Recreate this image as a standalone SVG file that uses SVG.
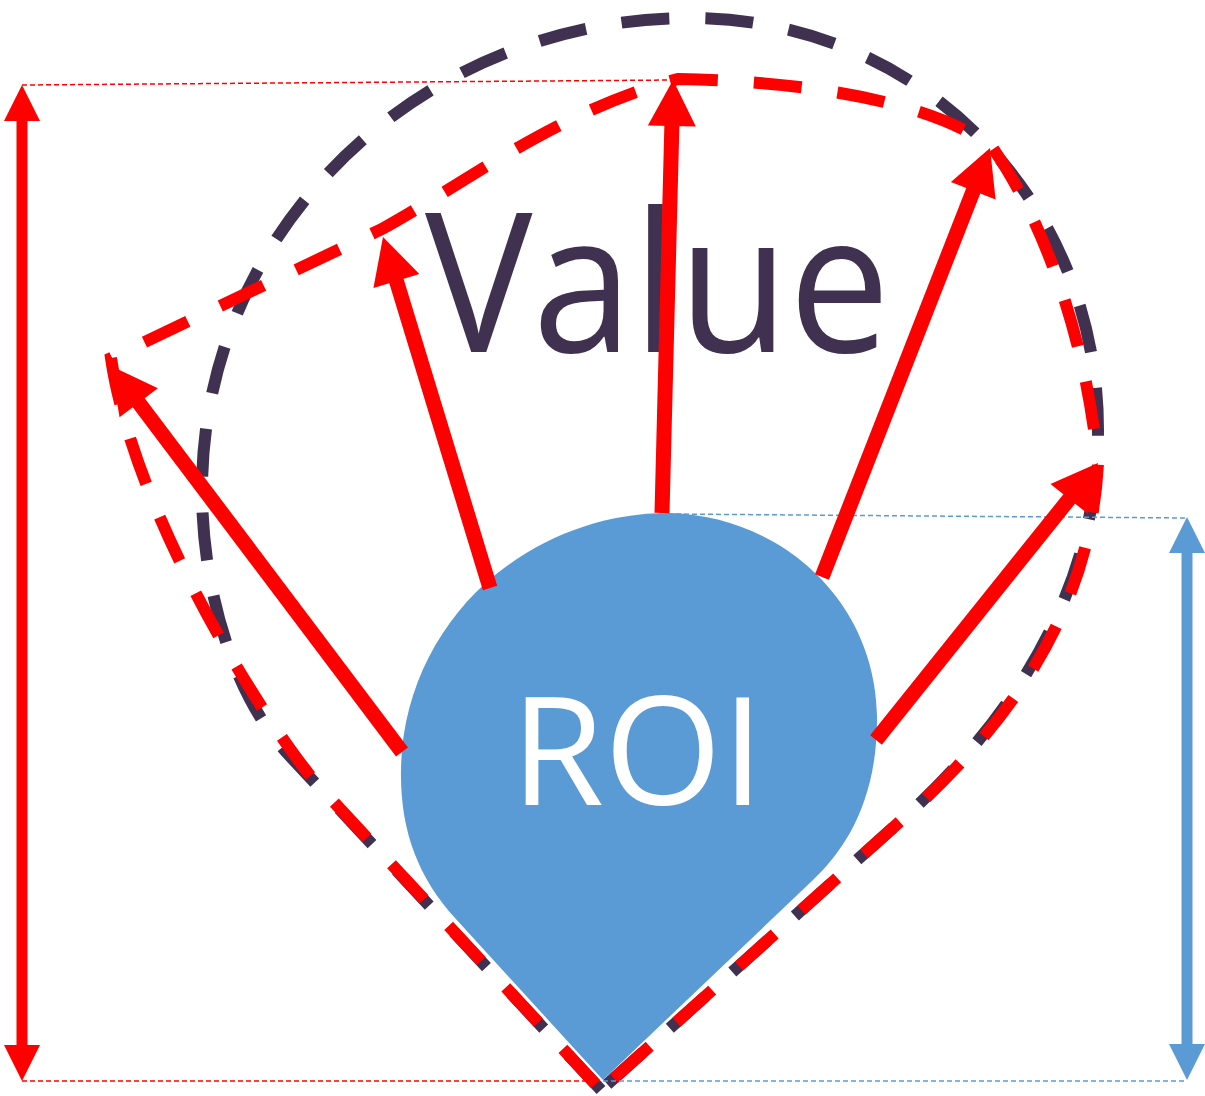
<svg xmlns="http://www.w3.org/2000/svg" width="1205" height="1096" viewBox="0 0 1205 1096">
  <style>
    .bg { fill: #FFFFFF; }
    .guide-red { stroke: #FF0000; stroke-width: 1.5; stroke-dasharray: 5 3; fill: none; }
    .guide-blue { stroke: #5B9BD5; stroke-width: 1.5; stroke-dasharray: 5 3; fill: none; }
    .dash-purple { stroke: #403151; stroke-width: 12; stroke-dasharray: 48 36; fill: none; stroke-linejoin: miter; }
    .dash-red { stroke: #FF0000; stroke-width: 12; stroke-dasharray: 48 36; fill: none; stroke-linejoin: miter; }
    .ray { stroke: #FF0000; stroke-width: 15; fill: none; marker-end: url(#ah-red); }
    .dim-red { stroke: #FF0000; stroke-width: 11; fill: none; marker-start: url(#dh-red); marker-end: url(#dh-red); }
    .dim-blue { stroke: #5B9BD5; stroke-width: 11; fill: none; marker-start: url(#dh-blue); marker-end: url(#dh-blue); }
    .roi-shape { fill: #5B9BD5; }
    .roi-text { fill: #FFFFFF; font-family: "Open Sans", "Noto Sans", "Liberation Sans", sans-serif; font-size: 151px; }
    .value-text { fill: #403151; font-family: "Open Sans", "Noto Sans", "Liberation Sans", sans-serif; font-size: 195px; }
  </style>
  <defs>
    <marker id="ah-red" markerUnits="userSpaceOnUse" markerWidth="46" markerHeight="48" refX="10" refY="24" orient="auto" overflow="visible">
      <path d="M0,0 L46,24 L0,48 Z" fill="#FF0000"/>
    </marker>
    <marker id="dh-red" markerUnits="userSpaceOnUse" markerWidth="36" markerHeight="36" refX="8" refY="18" orient="auto-start-reverse" overflow="visible">
      <path d="M0,0 L36,18 L0,36 Z" fill="#FF0000"/>
    </marker>
    <marker id="dh-blue" markerUnits="userSpaceOnUse" markerWidth="36" markerHeight="36" refX="8" refY="18" orient="auto-start-reverse" overflow="visible">
      <path d="M0,0 L36,18 L0,36 Z" fill="#5B9BD5"/>
    </marker>
  </defs>

  <rect class="bg" x="0" y="0" width="1205" height="1096"/>

  <g id="value">
    <text class="value-text" x="425" y="352" textLength="465" lengthAdjust="spacingAndGlyphs">Value</text>
  </g>

  <g id="value-boundary-outer">
    <path class="dash-purple" d="M601,1090 L288,754 C233.6,695.4 202,590 202,490 C202,225 425,18 690,18 C920,18 1098,200 1098,430 C1098,600 1001,730 905,817 Z"/>
  </g>

  <g id="value-boundary">
    <path class="dash-red" stroke-dashoffset="-8" d="M601,1090 L318,785 C270,730 135,520 111,358 L382,229 C470,180 560,110 678,79 C800,81 930,100 992,147 C1040,215 1085,330 1098,463 C1090,620 1000,732 905,817 Z"/>
  </g>

  <g id="guides">
    <line class="guide-red" x1="22" y1="85" x2="673" y2="80"/>
    <line class="guide-red" x1="22" y1="1081" x2="600" y2="1081"/>
    <line class="guide-blue" x1="668" y1="514" x2="1187" y2="518"/>
    <line class="guide-blue" x1="603" y1="1081" x2="1187" y2="1081"/>
  </g>

  <g id="roi">
    <path class="roi-shape" d="M603,1080 L455,918 C418,877 400,830 401,770 C402,690 440,620 495,575 C545,535 605,513 668,513 C780,515 875,600 877,715 C878,795 849,846 813,880 Z"/>
    <text class="roi-text" x="511" y="805">ROI</text>
  </g>

  <g id="connectors">
    <line class="ray" x1="402" y1="752" x2="132.7" y2="394.7"/>
    <line class="ray" x1="490" y1="588" x2="393.5" y2="271.4"/>
    <line class="ray" x1="662" y1="513" x2="672.1" y2="116"/>
    <line class="ray" x1="822" y1="577" x2="976.9" y2="181.5"/>
    <line class="ray" x1="876" y1="740" x2="1075.5" y2="491.1"/>
    <line class="dim-red" x1="22" y1="113" x2="22" y2="1053"/>
    <line class="dim-blue" x1="1187" y1="545" x2="1187" y2="1052"/>
  </g>
</svg>
